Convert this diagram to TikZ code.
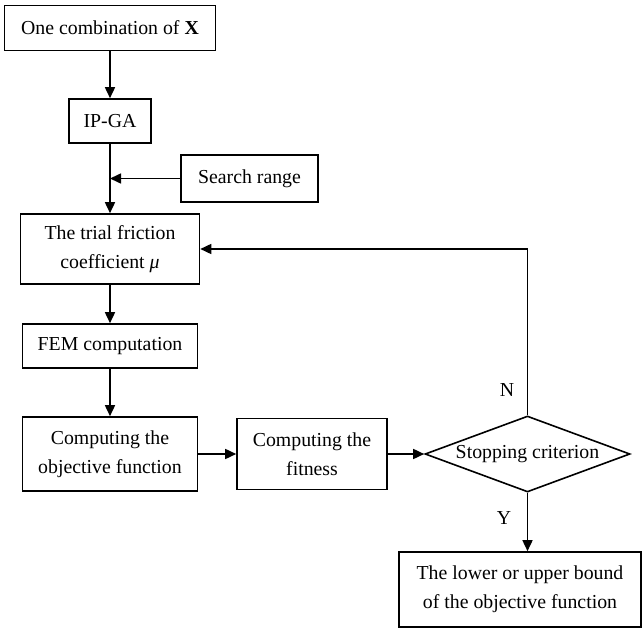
\documentclass[tikz,border=0pt]{standalone}
\usepackage{fontspec}
\setmainfont{Liberation Serif}
\usetikzlibrary{shapes.geometric,arrows.meta}

\begin{document}
\begin{tikzpicture}[x=1pt, y=-1pt, font=\fontsize{19.8}{29}\selectfont,
  block/.style={draw, line width=1.6pt, rectangle, inner sep=0pt, align=center},
  decide/.style={draw, line width=1.6pt, diamond, aspect=2.7, inner sep=0pt,
    minimum width=205pt, minimum height=76pt},
  flow/.style={line width=1.6pt, -{Triangle[length=11pt,width=10pt]}}]
  \useasboundingbox (0,0) rectangle (642,628);

  % left column
  \node[block, minimum width=211pt, minimum height=45pt] (combo) at (110, 28) {One combination of \textbf{X}};
  \node[block, minimum width=82pt, minimum height=44pt] (ipga) at (110, 121) {IP-GA};
  \node[block, minimum width=137pt, minimum height=47pt] (search) at (249.5, 178.5) {Search range};
  \node[block, minimum width=179pt, minimum height=70pt] (trial) at (110, 249) {The trial friction\\coefficient \textit{μ}};
  \node[block, minimum width=175pt, minimum height=44pt] (fem) at (110, 346) {FEM computation};
  \node[block, minimum width=175pt, minimum height=74pt] (obj) at (110, 454) {Computing the\\objective function};

  % bottom row
  \node[block, minimum width=150pt, minimum height=71pt] (fit) at (312, 454) {Computing the\\fitness};
  \node[decide] (stop) at (527.5, 454) {Stopping criterion};
  \node[block, minimum width=242pt, minimum height=75pt] (bound) at (520, 589.5) {The lower or upper bound\\of the objective function};

  % connectors
  \draw[flow] (combo) -- (ipga);
  \draw[flow] (ipga) -- (trial);
  \draw[flow] (search.west) -- (search.west -| ipga.south);
  \draw[flow] (trial) -- (fem);
  \draw[flow] (fem) -- (obj);
  \draw[flow] (obj) -- (fit);
  \draw[flow] (fit) -- (stop);
  \draw[flow] (stop.north) -- (stop.north |- trial.east) -- (trial.east);
  \draw[flow] (stop.south) -- (stop.south |- bound.north);

  % branch labels
  \node (no) at (507, 390) {N};
  \node (yes) at (504, 518) {Y};
\end{tikzpicture}
\end{document}
